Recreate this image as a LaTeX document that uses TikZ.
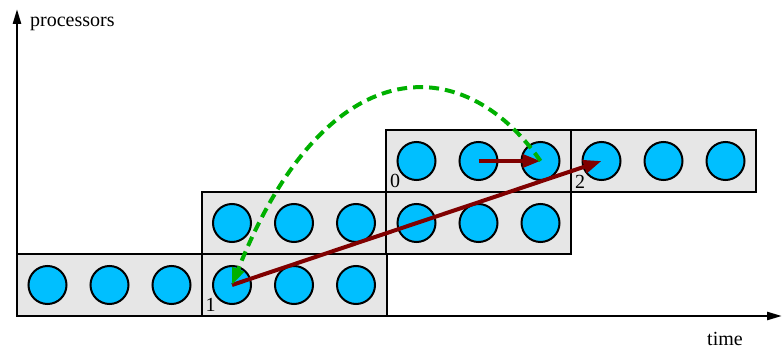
\documentclass[tikz,border=0pt]{standalone}
\usepackage{fontspec}
\setmainfont{Liberation Serif}
\usetikzlibrary{arrows.meta}
\definecolor{procblue}{RGB}{0,191,255}
\definecolor{boxgray}{RGB}{230,230,230}
\definecolor{darkred}{RGB}{128,0,0}
\definecolor{dgreen}{RGB}{0,176,0}
\begin{document}
\begin{tikzpicture}[x=1pt,y=-1pt,
  blockbox/.style={draw,line width=2pt,fill=boxgray,minimum width=185pt,minimum height=62pt,inner sep=0pt},
  proc/.style={circle,draw,line width=2pt,fill=procblue,minimum size=38pt,inner sep=0pt},
  lbl/.style={font=\fontsize{20}{24}\selectfont,inner sep=0pt},
  axisline/.style={line width=2.5pt,-{Triangle[length=15pt,width=8pt]}},
  redarrow/.style={line width=4pt,darkred,-{Triangle[length=18pt,width=13pt]}},
  greenarrow/.style={line width=4pt,dgreen,dash pattern=on 10pt off 6pt,-{Triangle[length=17pt,width=12pt]}}
]
\useasboundingbox (0,0) rectangle (782,350);
% axes
\coordinate (O) at (17,316);
\coordinate (ytop) at (17,9);
\coordinate (xend) at (782,316);
\draw[axisline] (O) -- (ytop);
\draw[axisline] (O) -- (xend);
\node[lbl,anchor=base west] (ylabel) at (30,27) {processors};
\node[lbl,anchor=base west] (xlabel) at (707,345) {time};
% blocks
\foreach \name/\x/\y in {A/109.5/285, B/294/285, C/294/223, D/478.5/223, E/478.5/161, F/663.5/161} {
  \node[blockbox] (\name) at (\x,\y) {};
}
\foreach \name in {A,B,C,D,E,F} {
  \foreach \i/\dx in {1/-62,2/0,3/62} {
    \node[proc] (\name\i) at ([xshift=\dx pt]\name.center) {};
  }
}
% labels
\node[lbl,anchor=south west] (l1) at ([xshift=5pt,yshift=5pt]B.south west) {1};
\node[lbl,anchor=south west] (l0) at ([xshift=5pt,yshift=5pt]E.south west) {0};
\node[lbl,anchor=south west] (l2) at ([xshift=5pt,yshift=4pt]F.south west) {2};
% arrows
\draw[redarrow] (B1.center) -- (F1.center);
\draw[redarrow] (E2.center) -- (E3.center);
\draw[greenarrow] (E3.center) .. controls (462,48) and (325,50) .. (B1.center);
\end{tikzpicture}
\end{document}
